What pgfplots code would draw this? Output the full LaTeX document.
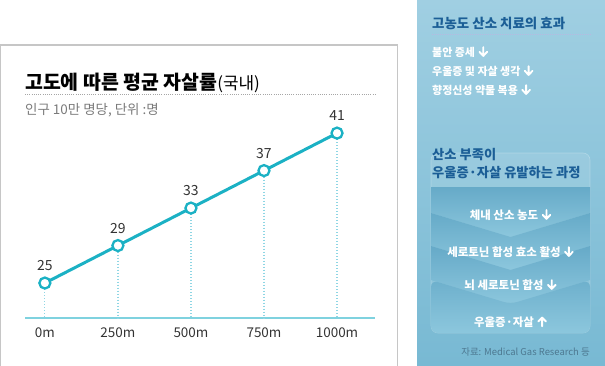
\documentclass[border=0pt]{standalone}
\usepackage{fontspec}
\setmainfont{Noto Sans CJK KR}
\usepackage{pgfplots}
\pgfplotsset{compat=1.18}
\definecolor{linec}{HTML}{1BB1C4}
\definecolor{dotc}{HTML}{8FD6E4}
\definecolor{basec}{HTML}{7FD2DF}
\definecolor{boxc}{HTML}{C6C6C6}
\definecolor{txtc}{HTML}{333333}
\definecolor{subc}{HTML}{7A7A7A}
\definecolor{pTop}{HTML}{A0CFE2}
\definecolor{pBot}{HTML}{78B9D3}
\definecolor{bDark}{HTML}{66AAC8}
\definecolor{bLight}{HTML}{8CC7DD}
\definecolor{titc}{HTML}{1B5E96}
\definecolor{srcc}{HTML}{4D7890}
\newcommand{\dn}{\hspace{3.5bp}\tikz[baseline=0bp, x=1bp, y=1bp]{\draw[white, line width=1.9bp, line cap=round, line join=round] (0,9.5)--(0,0.8) (-3.8,4.8)--(0,0.8)--(3.8,4.8);}}
\newcommand{\up}{\hspace{3.5bp}\tikz[baseline=0bp, x=1bp, y=1bp]{\draw[white, line width=1.9bp, line cap=round, line join=round] (0,0)--(0,8.7) (-3.8,4.9)--(0,8.7)--(3.8,4.9);}}
\pgfplotstableread{
alt rate
0 25
250 29
500 33
750 37
1000 41
}\ratedata
\begin{document}
\begin{tikzpicture}[x=1bp,y=1bp]
\useasboundingbox (0,0) rectangle (605,365);
% left frame
\draw[boxc, line width=1.3bp] (0.8,-5) -- (0.8,320) -- (397.5,320) -- (397.5,-5);
\node[anchor=west, inner sep=0, text=black] at (25,282)
  {\fontsize{19.5}{22}\selectfont\bfseries 고도에 따른 평균 자살률\fontsize{17}{20}\selectfont\mdseries(국내)};
\draw[gray!70, line width=0.8bp, dash pattern=on 0.8bp off 1.4bp] (25,271) -- (375,271);
\node[anchor=west, inner sep=0, text=subc] at (25,255)
  {\fontsize{13.5}{15}\selectfont 인구 10만 명당, 단위 :명};
\begin{axis}[
  at={(25bp,47bp)}, anchor=south west, scale only axis,
  width=350bp, height=213bp,
  xmin=-68, xmax=1130, ymin=21.27, ymax=44,
  axis x line*=bottom, axis y line=none,
  ytick=\empty,
  x axis line style={draw=basec, line width=2bp, -},
  xtick={0,250,500,750,1000},
  xticklabels={0m,250m,500m,750m,1000m},
  major tick length=0pt,
  /pgf/number format/assume math mode=true,
  xticklabel style={font=\fontsize{13.5}{15}\selectfont, text=txtc, yshift=-6bp},
]
\addplot[draw=none, mark=none, forget plot,
  error bars/.cd, y dir=minus, y fixed=30, error mark=none,
  error bar style={draw=dotc, line width=1.2bp, dash pattern=on 1.2bp off 1.8bp}]
  table[x=alt, y=rate] {\ratedata};
\addplot[linec, line width=3bp, mark=*, mark size=5.5bp,
  mark options={fill=white, draw=linec, line width=2.3bp},
  nodes near coords,
  nodes near coords style={font=\fontsize{14}{16}\selectfont, text=txtc, anchor=south, inner sep=0pt, yshift=11bp}]
  table[x=alt, y=rate] {\ratedata};
\end{axis}
% right panel
\shade[top color=pTop, bottom color=pBot] (417,0) rectangle (605,365);
\node[anchor=west, inner sep=0, text=titc] at (432,342)
  {\fontsize{13.5}{15}\selectfont\bfseries 고농도 산소 치료의 효과};
\draw[gray!60!blue!40, line width=0.8bp, dash pattern=on 0.8bp off 1.2bp] (432,331) -- (592,331);
\begin{scope}[every node/.style={anchor=west, inner sep=0, text=white, font=\fontsize{11}{12}\selectfont\bfseries}]
\node at (432,313) {불안 증세\dn};
\node at (432,294) {우울증 및 자살 생각\dn};
\node at (432,275) {향정신성 약물 복용\dn};
\end{scope}
\fill[white, opacity=0.10, rounded corners=7bp] (431,32) rectangle (590,212);
\draw[white, opacity=0.25, line width=0.6bp, rounded corners=7bp] (431,32) rectangle (590,212);
\node[anchor=west, inner sep=0, text=titc] at (432,210)
  {\fontsize{13.3}{15}\selectfont\bfseries 산소 부족이};
\node[anchor=west, inner sep=0, text=titc] at (432,192)
  {\fontsize{13.3}{15}\selectfont\bfseries 우울증·자살 유발하는 과정};
\draw[gray!60!blue!40, line width=0.8bp, dash pattern=on 0.8bp off 1.2bp] (432,178) -- (590,178);
\shade[top color=bDark, bottom color=bLight] (431,178) -- (590,178) -- (590,152) -- (510.5,128) -- (431,152) -- cycle;
\shade[top color=bDark, bottom color=bLight] (431,152) -- (510.5,128) -- (590,152) -- (590,119) -- (510.5,95) -- (431,119) -- cycle;
\shade[top color=bDark, bottom color=bLight] (431,119) -- (510.5,95) -- (590,119) -- (590,85) -- (510.5,61) -- (431,85) -- cycle;
\shade[top color=bDark!80!bLight, bottom color=bLight, rounded corners=7bp] (431,85) -- (510.5,61) -- (590,85) -- (590,32) -- (431,32) -- cycle;
\begin{scope}[every node/.style={inner sep=0, text=white, font=\fontsize{11.5}{13}\selectfont\bfseries}]
\node at (510.5,150) {체내 산소 농도\dn};
\node at (510.5,113) {세로토닌 합성 효소 활성\dn};
\node at (510.5,80) {뇌 세로토닌 합성\dn};
\node at (510.5,43) {우울증·자살\up};
\end{scope}
\node[anchor=east, inner sep=0, text=srcc] at (590,13)
  {\fontsize{9.5}{11}\selectfont 자료: Medical Gas Research 등};
\end{tikzpicture}
\end{document}
